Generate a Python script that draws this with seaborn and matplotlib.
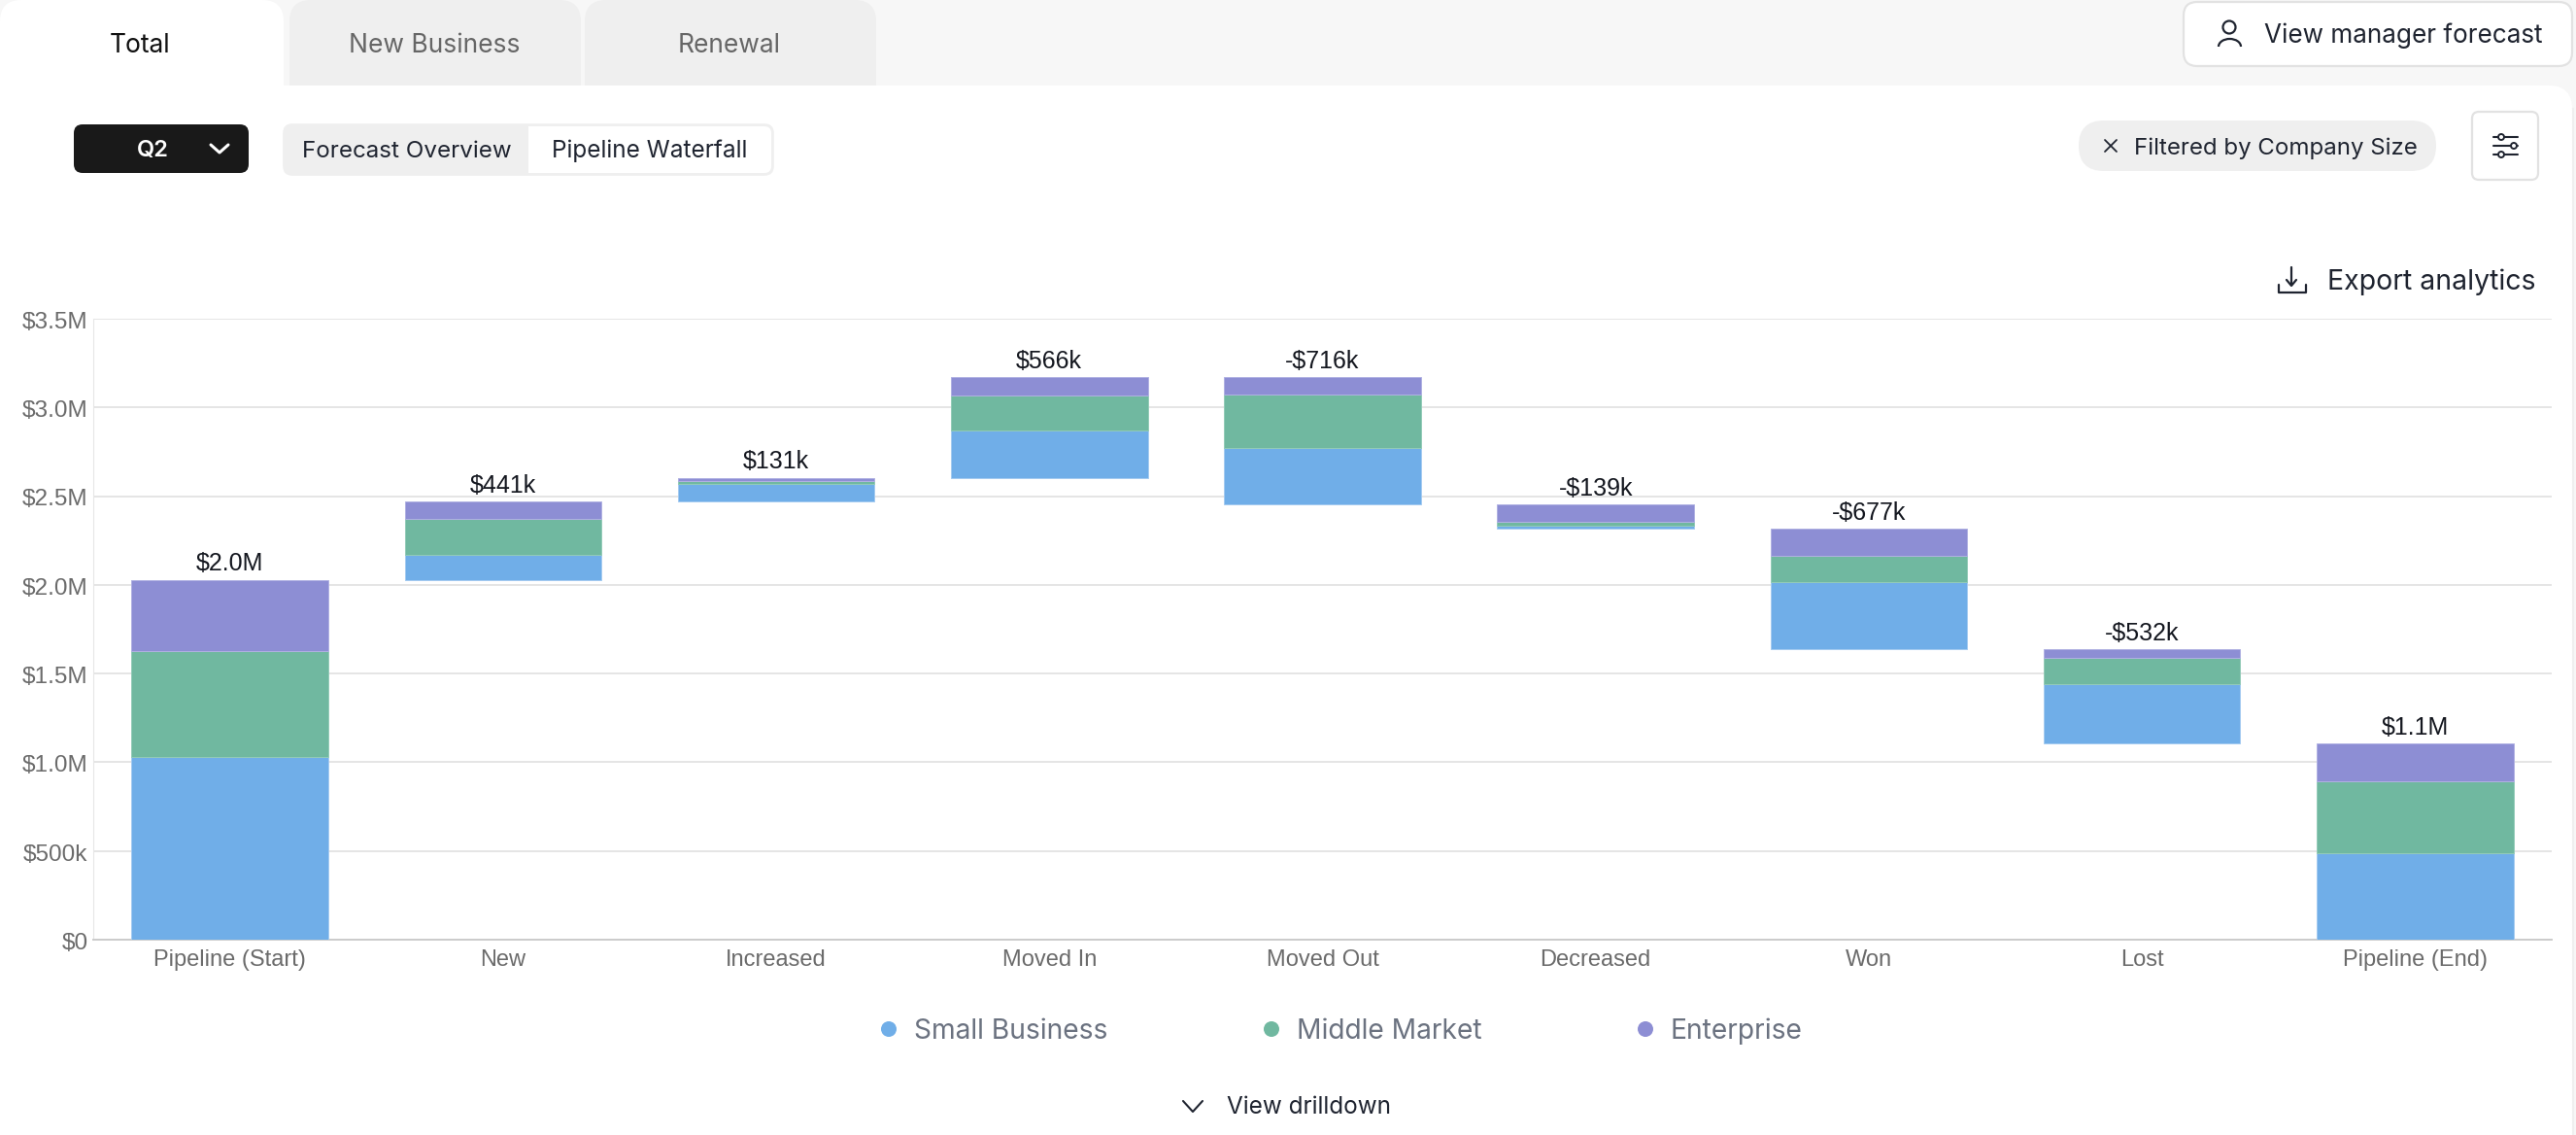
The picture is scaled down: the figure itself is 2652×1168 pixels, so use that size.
import matplotlib
matplotlib.use("Agg")
import matplotlib.pyplot as plt
from matplotlib.patches import FancyBboxPatch, Rectangle, Circle, Arc
from matplotlib.transforms import ScaledTranslation
import pandas as pd
import seaborn as sns

steps = ["Pipeline (Start)", "New", "Increased", "Moved In", "Moved Out",
         "Decreased", "Won", "Lost", "Pipeline (End)"]
directions = [0, 1, 1, 1, -1, -1, -1, -1, 0]
small_business = [1.029, 0.142, 0.100, 0.267, 0.319, 0.018, 0.378, 0.335, 0.490]
middle_market = [0.599, 0.198, 0.018, 0.198, 0.298, 0.022, 0.149, 0.148, 0.404]
enterprise = [0.401, 0.101, 0.016, 0.103, 0.101, 0.099, 0.151, 0.049, 0.210]
bar_labels = ["$2.0M", "$441k", "$131k", "$566k", "-$716k", "-$139k", "-$677k", "-$532k", "$1.1M"]
y_ticks = [0, 0.5, 1.0, 1.5, 2.0, 2.5, 3.0, 3.5]
y_tick_labels = ["$0", "$500k", "$1.0M", "$1.5M", "$2.0M", "$2.5M", "$3.0M", "$3.5M"]
series_names = ["Small Business", "Middle Market", "Enterprise"]
series_colors = ["#70AEE8", "#70B8A0", "#8D8ED4"]
series_edges = ["#A5CBF0", "#93CBB8", "#B0B1E2"]

W, H = 2652, 1168
UI = ["Inter", "DejaVu Sans"]
CHART = ["Liberation Sans", "DejaVu Sans"]

sns.set_theme(style="white")
plt.rcParams["font.family"] = UI

df = pd.DataFrame({"step": steps, "direction": directions, "Small Business": small_business,
                   "Middle Market": middle_market, "Enterprise": enterprise})
df["total"] = df[series_names].sum(axis=1)

# running total gives the floating base of each bar
bases = []
level = 0.0
for d, t in zip(df["direction"], df["total"]):
    if d == 0:
        bases.append(0.0)
        level = t
    elif d > 0:
        bases.append(level)
        level += t
    else:
        level -= t
        bases.append(level)
df["base"] = bases

fig = plt.figure(figsize=(W / 100, H / 100), dpi=100, facecolor="white")

# page chrome, in pixels
bg = fig.add_axes([0, 0, 1, 1], zorder=0)
bg.set_xlim(0, W)
bg.set_ylim(H, 0)
bg.axis("off")


def box(x0, y0, x1, y1, r, fc, ec="none", lw=0, z=2):
    bg.add_patch(FancyBboxPatch((x0 + r, y0 + r), x1 - x0 - 2 * r, y1 - y0 - 2 * r,
                                boxstyle=f"round,pad={r},rounding_size={r}", fc=fc, ec=ec, lw=lw, zorder=z))


def label(x, y, s, size, color="#1F2430", ha="center", weight="normal"):
    bg.text(x, y + 2.5, s, fontsize=size, color=color, ha=ha, va="center", weight=weight, zorder=5)


def stroke(xs, ys, color="#1F2430", lw=1.6):
    bg.plot(xs, ys, color=color, lw=lw, solid_capstyle="round", solid_joinstyle="round", zorder=5)


# grey strip behind the tabs, white card below it
bg.add_patch(Rectangle((0, 0), W, 120, fc="#F7F7F7", ec="none", zorder=1))
bg.add_patch(Rectangle((2649, 88), 3, H - 88, fc="#F7F7F7", ec="none", zorder=1))
bg.add_patch(Rectangle((0, 88), 2000, 60, fc="white", ec="none", zorder=1.5))
box(1900, 88, 2648, 400, 24, "white", z=1.5)
bg.add_patch(Rectangle((0, 148), 2648, H - 148, fc="white", ec="none", zorder=1.5))
bg.plot([2649, 2649], [112, H], color="#EFEFEF", lw=1.5, zorder=1.6)

box(0, 0, 292, 110, 22, "white", z=1.2)
box(298, 0, 598, 110, 22, "#EFEFEF", z=1.2)
box(602, 0, 902, 110, 22, "#EFEFEF", z=1.2)
label(144, 44, "Total", 19, "#111111")
label(447, 44, "New Business", 19, "#666666")
label(751, 44, "Renewal", 19, "#666666")

box(2248, 2, 2648, 68, 14, "white", "#E2E2E2", 1.6)
bg.add_patch(Circle((2295, 28), 6.5, fc="none", ec="#1F2430", lw=1.6, zorder=5))
bg.add_patch(Arc((2295.5, 48), 23, 16, theta1=180, theta2=360, ec="#1F2430", lw=1.6, zorder=5))
label(2331, 34, "View manager forecast", 18.8, ha="left")

box(76, 128, 256, 178, 9, "#191919")
label(157, 153, "Q2", 17, "white", weight="semibold")
stroke([217, 226, 235], [149, 157, 149], "white", 2.2)

box(292, 128, 796, 180, 9, "#EFEFEF", "#EFEFEF", 1.2)
box(544, 130, 794, 178, 7, "white", z=3)
bg.add_patch(Rectangle((544, 130), 20, 48, fc="white", ec="none", zorder=3))
label(419, 153, "Forecast Overview", 17.4)
label(669, 153, "Pipeline Waterfall", 17.5)

box(2140, 124, 2508, 176, 26, "#EFEFEF")
stroke([2167, 2179], [144, 156], lw=1.3)
stroke([2167, 2179], [156, 144], lw=1.3)
label(2197, 150, "Filtered by Company Size", 17.3, ha="left")

box(2545, 115, 2613, 185, 7, "white", "#E2E2E2", 1.6)
for sy, sx in zip([141, 150, 159], [2575, 2588, 2575]):
    stroke([2567, 2592], [sy, sy], lw=1.5)
    bg.add_patch(Circle((sx, sy), 3, fc="white", ec="#1F2430", lw=1.4, zorder=6))

stroke([2359, 2359], [275, 293])
stroke([2354, 2359, 2364], [288, 294, 288])
stroke([2346, 2346, 2374, 2374], [293, 301, 301, 293])
label(2396, 288, "Export analytics", 20.5, ha="left")

# chart, bars come from the seaborn categorical axis
ax = fig.add_axes([96 / W, 1 - 967 / H, (2627 - 96) / W, (967 - 328) / H], zorder=1)
ax.patch.set_alpha(0)
bottom = df["base"].to_numpy().copy()
for name, color, edge in zip(series_names, series_colors, series_edges):
    sns.barplot(data=df, x="step", y=name, order=steps, bottom=bottom, color=color, saturation=1,
                width=0.72, errorbar=None, edgecolor=edge, linewidth=0.7, zorder=3, ax=ax)
    bottom = bottom + df[name].to_numpy()

for i, (top, text) in enumerate(zip(bottom, bar_labels)):
    ax.annotate(text, (i, top), xytext=(0, 3), textcoords="offset points", ha="center", va="bottom",
                fontsize=18, color="#14171F", family=CHART)

ax.set_ylim(0, 3.5)
ax.set_xlim(-0.5, 8.5)
ax.set_yticks(y_ticks, y_tick_labels)
ax.set_xlabel("")
ax.set_ylabel("")
ax.grid(axis="y", color="#E3E3E3", lw=1.3, zorder=0)
ax.grid(axis="x", visible=False)
ax.set_axisbelow(True)
sns.despine(ax=ax, top=True, right=True)
ax.spines["left"].set_color("#E6E6E6")
ax.spines["left"].set_linewidth(0.8)
ax.spines["bottom"].set_color("#CCCCCC")
ax.spines["bottom"].set_linewidth(1.4)
ax.tick_params(axis="x", length=0, labelsize=17, labelcolor="#6B6B6B", pad=7.5)
ax.tick_params(axis="y", length=0, labelsize=17.6, labelcolor="#6B6B6B", pad=4)
nudge = ScaledTranslation(0, -1 / 72, fig.dpi_scale_trans)
for t in ax.get_xticklabels():
    t.set_family(CHART)
for t in ax.get_yticklabels():
    t.set_family(CHART)
    t.set_transform(t.get_transform() + nudge)

# legend row
for dot_x, text_x, name, color in zip([915, 1309, 1694], [941, 1335, 1720], series_names, series_colors):
    bg.add_patch(Circle((dot_x, 1059), 8, fc=color, ec="none", zorder=5))
    label(text_x, 1059, name, 20.3, "#6B7280", ha="left")

stroke([1218, 1228, 1238], [1133, 1144, 1133], lw=1.5)
label(1263, 1137, "View drilldown", 17.5, ha="left")

fig.savefig("out.png", dpi=100)
